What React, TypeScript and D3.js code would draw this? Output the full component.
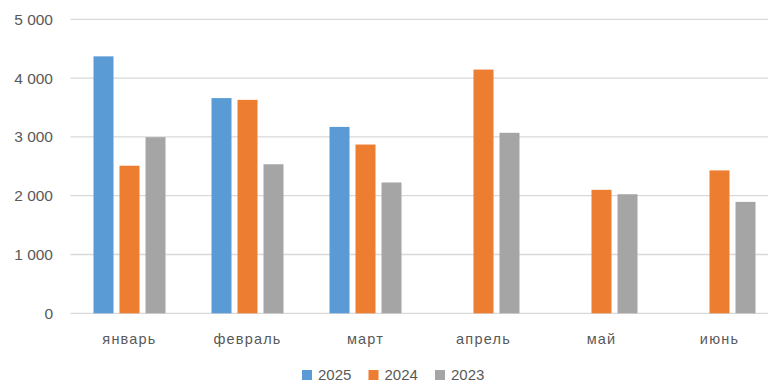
import React from "react";
import * as d3 from "d3";

const categories = ["январь", "февраль", "март", "апрель", "май", "июнь"];
const seriesNames = ["2025", "2024", "2023"];
const values2025: (number | null)[] = [4370, 3660, 3170, null, null, null];
const values2024: (number | null)[] = [2510, 3630, 2870, 4145, 2100, 2430];
const values2023: (number | null)[] = [2995, 2535, 2225, 3070, 2025, 1895];
const yTicks = [0, 1000, 2000, 3000, 4000, 5000];
const colors = ["#5B9BD5", "#ED7D31", "#A5A5A5"];

const W = 768;
const H = 383;

export default function App() {
  const series = [values2025, values2024, values2023];
  const left = 70.5;
  const step = 118;
  const x = d3.scaleBand<string>().domain(categories).range([left, left + step * categories.length]).paddingInner(0).paddingOuter(0);
  const y = d3.scaleLinear().domain([0, 5000]).range([313.3, 19.3]);
  const barW = 20;
  const gap = 6;
  const groupW = barW * 3 + gap * 2;
  const fmt = (v: number) => (v === 0 ? "0" : d3.format(",")(v).replace(/,/g, " "));
  const font = "'Liberation Sans', Arial, sans-serif";

  return (
    <svg width={W} height={H} style={{ position: "absolute", left: 0, top: 0, background: "#fff" }}>
      {yTicks.map((t) => (
        <g key={t}>
          <line x1={left} x2={W} y1={y(t)} y2={y(t)} stroke="#D9D9D9" strokeWidth={1.3} />
          <text x={53} y={y(t)} dy="0.35em" textAnchor="end" fontSize={15.5} fill="#595959" fontFamily={font}>
            {fmt(t)}
          </text>
        </g>
      ))}
      {categories.map((c, i) => {
        const cx = (x(c) as number) + x.bandwidth() / 2;
        const x0 = cx - groupW / 2;
        return (
          <g key={c}>
            {series.map((s, j) => {
              const v = s[i];
              if (v == null) return null;
              return (
                <rect key={j} x={x0 + j * (barW + gap)} y={y(v)} width={barW} height={y(0) - y(v)} fill={colors[j]} />
              );
            })}
            <text x={cx} y={338.5} dy="0.35em" textAnchor="middle" fontSize={14.5} fill="#595959" fontFamily={font} letterSpacing={1.2}>
              {c}
            </text>
          </g>
        );
      })}
      {seriesNames.map((n, j) => {
        const lx = [302, 368.5, 435][j];
        return (
          <g key={n}>
            <rect x={lx} y={370} width={10} height={10} fill={colors[j]} />
            <text x={lx + 16} y={374.5} dy="0.35em" fontSize={15} fill="#595959" fontFamily={font}>
              {n}
            </text>
          </g>
        );
      })}
    </svg>
  );
}
